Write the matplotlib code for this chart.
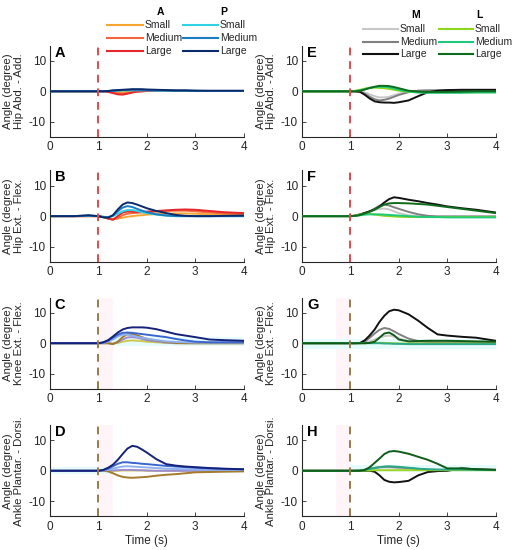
import matplotlib

matplotlib.use("Agg")

import matplotlib.pyplot as plt
from matplotlib.lines import Line2D

plt.rcParams["font.family"] = ["Liberation Sans", "DejaVu Sans"]
plt.rcParams["axes.unicode_minus"] = False

# tiempo comun (s)
T = [0, 0.5, 0.8, 1.0, 1.1, 1.2, 1.3, 1.4, 1.5, 1.6, 1.7, 1.8, 1.9, 2.0,
     2.2, 2.4, 2.6, 2.8, 3.0, 3.3, 3.6, 4.0]

sizes = ["Small", "Medium", "Large"]

# ---- columna izquierda: A / P ----
hip_aa_A = [
    [0, 0, 0, 0, 0, 0, -0.1, -0.2, -0.3, -0.2, -0.1, 0, 0.1, 0.1, 0.1, 0.1, 0.1, 0.1, 0.1, 0.1, 0.1, 0.1],
    [0, 0, 0, 0, 0, -0.1, -0.4, -0.7, -0.8, -0.6, -0.3, -0.1, 0, 0.1, 0.1, 0.1, 0.1, 0.1, 0.1, 0.1, 0.1, 0.1],
    [0, 0, 0, 0, 0, -0.2, -0.6, -1.0, -1.1, -0.8, -0.4, -0.1, 0, 0.1, 0.2, 0.2, 0.2, 0.2, 0.1, 0.1, 0.1, 0.1],
]
hip_aa_P = [
    [0, 0, 0, 0, 0, 0.1, 0.2, 0.2, 0.3, 0.3, 0.3, 0.3, 0.3, 0.3, 0.2, 0.2, 0.2, 0.2, 0.1, 0.1, 0.1, 0.1],
    [0, 0, 0, 0, 0, 0.1, 0.2, 0.3, 0.4, 0.4, 0.5, 0.5, 0.4, 0.4, 0.3, 0.3, 0.2, 0.2, 0.2, 0.1, 0.1, 0.1],
    [0, 0, 0, 0, 0, 0.1, 0.3, 0.4, 0.5, 0.6, 0.7, 0.7, 0.7, 0.6, 0.5, 0.4, 0.3, 0.3, 0.2, 0.2, 0.2, 0.2],
]
hip_ef_A = [
    [0, 0, 0, 0, -0.2, -0.6, -0.9, -0.8, -0.5, -0.2, 0, 0.2, 0.3, 0.5, 0.7, 0.8, 0.9, 0.9, 0.8, 0.6, 0.5, 0.4],
    [0, 0, 0, 0, -0.3, -0.8, -1.1, -0.6, 0.3, 0.8, 1.0, 1.1, 1.2, 1.3, 1.5, 1.7, 1.8, 1.8, 1.6, 1.2, 0.9, 0.8],
    [0, 0, 0, 0, -0.3, -0.8, -1.2, 0, 1.2, 1.5, 1.5, 1.4, 1.4, 1.5, 1.7, 1.9, 2.1, 2.2, 2.1, 1.7, 1.3, 1.0],
]
hip_ef_P = [
    [0, 0, 0.1, 0, -0.2, -0.3, 0, 0.8, 1.6, 2.0, 2.0, 1.7, 1.3, 1.0, 0.5, 0.2, 0, 0, 0, 0, 0, 0],
    [0, 0, 0.2, 0, -0.3, -0.4, 0.2, 1.6, 2.8, 3.3, 3.0, 2.4, 1.8, 1.3, 0.6, 0.2, 0, 0, 0, 0, 0, 0],
    [0, 0, 0.3, 0, -0.4, -0.5, 0.3, 2.2, 3.8, 4.5, 4.3, 3.8, 3.2, 2.6, 1.7, 1.0, 0.4, 0.1, 0, 0, 0.1, 0.2],
]
knee_A = [
    [0, 0, 0, 0, 0, 0, -0.1, 0.1, 0.5, 0.8, 0.9, 0.8, 0.7, 0.5, 0.3, 0.1, 0, 0, 0, 0, 0, 0],
    [0, 0, 0, 0, 0, 0, -0.2, 0.3, 1.2, 1.9, 2.0, 1.8, 1.4, 1.0, 0.6, 0.2, 0, 0, 0, 0, 0, 0],
    [0, 0, 0, 0, 0, 0, -0.3, 0.5, 2.0, 3.0, 3.0, 2.6, 2.0, 1.4, 0.9, 0.4, 0.1, 0, 0, 0, 0, 0],
]
knee_P = [
    [0, 0, 0, 0, 0.1, 0.5, 1.2, 2.2, 2.8, 2.8, 2.5, 2.1, 1.8, 1.5, 1.0, 0.6, 0.4, 0.3, 0.2, 0.2, 0.2, 0.2],
    [0, 0, 0, 0, 0.2, 0.8, 1.8, 2.8, 3.4, 3.5, 3.4, 3.2, 3.0, 2.8, 2.4, 2.0, 1.4, 0.9, 0.5, 0.3, 0.3, 0.3],
    [0, 0, 0, 0, 0.3, 1.0, 2.2, 3.5, 4.5, 5.0, 5.2, 5.2, 5.2, 5.1, 4.6, 3.8, 3.0, 2.5, 2.0, 1.2, 1.0, 0.8],
]
ankle_A = [
    [0, 0, 0, 0, 0, 0, 0, 0, 0.1, 0.1, 0.1, 0.1, 0.1, 0, 0, 0, 0, 0, 0, 0, 0, 0],
    [0, 0, 0, 0, 0, 0, 0.1, 0.2, 0.3, 0.3, 0.3, 0.2, 0.2, 0.1, 0, 0, 0, 0, 0, 0, 0, 0],
    [0, 0, 0, 0, 0, -0.2, -0.8, -1.5, -2.0, -2.2, -2.3, -2.2, -2.1, -2.0, -1.6, -1.3, -1.1, -0.8, -0.5, -0.4, -0.3, -0.2],
]
ankle_P = [
    [0, 0, 0, 0, 0.1, 0.3, 0.7, 1.1, 1.4, 1.5, 1.4, 1.3, 1.2, 1.1, 0.9, 0.7, 0.6, 0.5, 0.4, 0.3, 0.3, 0.3],
    [0, 0, 0, 0, 0.2, 0.7, 1.5, 2.3, 2.8, 2.8, 2.6, 2.5, 2.3, 2.2, 1.9, 1.6, 1.4, 1.2, 1.0, 0.8, 0.6, 0.5],
    [0, 0, 0, 0, 0.3, 1.0, 2.0, 3.6, 5.5, 7.3, 8.2, 7.9, 7.0, 6.0, 3.8, 2.2, 1.7, 1.4, 1.2, 0.9, 0.7, 0.5],
]

# ---- columna derecha: M / L ----
hip_aa_M = [
    [0, 0, 0, 0, 0, 0, -0.4, -1.0, -1.6, -2.0, -2.0, -1.8, -1.3, -0.8, -0.1, 0.2, 0.3, 0.3, 0.3, 0.3, 0.2, 0.2],
    [0, 0, 0, 0, 0, -0.1, -0.8, -1.8, -2.6, -3.0, -2.8, -2.4, -1.8, -1.2, -0.3, 0.2, 0.3, 0.3, 0.3, 0.3, 0.3, 0.3],
    [0, 0, 0, 0, 0, -0.2, -1.2, -2.4, -3.3, -3.6, -3.7, -3.7, -3.8, -3.6, -3.0, -1.6, -0.3, 0.2, 0.4, 0.5, 0.5, 0.5],
]
hip_aa_L = [
    [0, 0, 0, 0, 0.2, 0.5, 0.9, 1.2, 1.2, 1.1, 1.0, 0.8, 0.5, 0.2, -0.2, -0.3, -0.3, -0.3, -0.3, -0.3, -0.3, -0.3],
    [0, 0, 0, 0, 0.1, 0.3, 0.7, 1.1, 1.4, 1.5, 1.5, 1.3, 0.9, 0.5, -0.1, -0.4, -0.5, -0.5, -0.5, -0.5, -0.4, -0.4],
    [0, 0, 0, 0, 0, 0.2, 0.6, 1.1, 1.5, 1.8, 1.8, 1.7, 1.4, 1.0, 0.2, -0.1, -0.2, -0.2, -0.2, -0.1, 0, 0],
]
hip_ef_M = [
    [0, 0, 0, 0, 0.1, 0.3, 0.7, 1.3, 2.0, 2.4, 2.5, 2.2, 1.6, 1.0, 0.3, 0, -0.1, -0.1, -0.1, -0.1, -0.1, -0.1],
    [0, 0, 0, 0, 0.1, 0.4, 0.9, 1.6, 2.5, 3.4, 3.8, 3.5, 2.9, 2.4, 1.4, 0.6, 0.1, -0.1, -0.1, -0.1, -0.1, -0.1],
    [0, 0, 0, 0, 0.2, 0.6, 1.1, 1.6, 2.2, 3.2, 4.5, 5.6, 6.2, 6.0, 5.4, 4.9, 4.3, 3.8, 3.2, 2.6, 2.1, 1.2],
]
hip_ef_L = [
    [0, 0, 0, 0, 0.2, 0.5, 0.8, 0.7, 0.5, 0.3, 0.1, 0, -0.1, -0.2, -0.3, -0.3, -0.3, -0.3, -0.3, -0.3, -0.3, -0.3],
    [0, 0, 0, 0, 0.1, 0.3, 0.5, 0.6, 0.6, 0.6, 0.5, 0.4, 0.3, 0.2, 0, -0.2, -0.3, -0.3, -0.4, -0.4, -0.4, -0.4],
    [0, 0, 0, 0, 0.1, 0.4, 0.9, 1.5, 2.2, 3.0, 3.8, 4.2, 4.3, 4.3, 4.2, 4.0, 3.8, 3.4, 3.0, 2.4, 1.8, 1.0],
]
knee_M = [
    [0, 0, 0, 0, 0, 0, 0.2, 0.6, 1.2, 1.9, 2.3, 2.5, 2.2, 1.6, 0.6, 0.3, 0.3, 0.3, 0.3, 0.3, 0.3, 0.3],
    [0, 0, 0, 0, 0, 0, 0.6, 1.8, 3.2, 4.4, 5.0, 4.7, 3.9, 3.0, 1.5, 0.7, 0.4, 0.3, 0.3, 0.3, 0.3, 0.3],
    [0, 0, 0, 0, 0, 0.1, 1.0, 2.6, 4.5, 7.0, 9.0, 10.5, 11.0, 10.8, 9.5, 7.4, 5.0, 2.9, 2.5, 2.1, 1.8, 0.8],
]
knee_L = [
    [0, 0, 0, 0, 0, 0, 0, 0.1, 0.1, 0.1, 0.1, 0, 0, -0.1, -0.1, -0.1, -0.1, -0.1, -0.1, -0.1, -0.1, -0.1],
    [0, 0, 0, 0, 0, 0, 0, 0, 0, 0, -0.1, -0.1, -0.2, -0.2, -0.3, -0.3, -0.3, -0.3, -0.3, -0.3, -0.3, -0.3],
    [0, 0, 0, 0, 0, 0, 0, 0.1, 0.5, 1.8, 3.2, 3.5, 2.6, 1.2, 0.6, 0.7, 0.8, 0.8, 0.8, 0.7, 0.6, 0.5],
]
ankle_M = [
    [0, 0, 0, 0, 0, 0.1, 0.3, 0.5, 0.8, 1.0, 1.1, 1.1, 1.0, 0.9, 0.7, 0.5, 0.3, 0.2, 0.2, 0.3, 0.3, 0.2],
    [0, 0, 0, 0, 0, 0.1, 0.4, 0.7, 1.0, 1.2, 1.3, 1.3, 1.2, 1.1, 0.9, 0.6, 0.4, 0.3, 0.3, 0.4, 0.3, 0.3],
    [0, 0, 0, 0, 0, 0, 0, 0, -0.3, -1.5, -3.0, -3.6, -3.8, -3.7, -3.3, -1.5, -0.4, -0.1, 0, 0.8, 0.5, 0.3],
]
ankle_L = [
    [0, 0, 0, 0, 0, 0, 0.1, 0.1, 0.2, 0.2, 0.2, 0.2, 0.2, 0.2, 0.2, 0.2, 0.2, 0.2, 0.2, 0.2, 0.2, 0.2],
    [0, 0, 0, 0, 0, 0.1, 0.3, 0.6, 0.9, 1.2, 1.4, 1.5, 1.4, 1.3, 1.0, 0.7, 0.5, 0.4, 0.4, 0.4, 0.3, 0.3],
    [0, 0, 0, 0, 0, 0, 0.3, 1.2, 2.6, 4.0, 5.5, 6.3, 6.5, 6.3, 5.6, 4.6, 3.6, 2.3, 0.8, 0.8, 0.5, 0.3],
]

joint_labels = ["Hip Abd. - Add.", "Hip Ext. - Flex.", "Knee Ext. - Flex.",
                "Ankle Plantar. - Dorsi."]
left_data = [(hip_aa_A, hip_aa_P), (hip_ef_A, hip_ef_P),
             (knee_A, knee_P), (ankle_A, ankle_P)]
right_data = [(hip_aa_M, hip_aa_L), (hip_ef_M, hip_ef_L),
              (knee_M, knee_L), (ankle_M, ankle_L)]

# colores
col_A = ["#f7a531", "#f4673c", "#e5262a"]
col_P = ["#2fd3e3", "#1a7dc2", "#0b2a6b"]
col_M = ["#c8c8c8", "#808080", "#111111"]
col_L = ["#8fd61a", "#1ec97a", "#0e6b1c"]
# en las filas inferiores los colores se ven mezclados con el sombreado
col_A_low = ["#cfc94a", "#9b8bd6", "#a47a2d"]
col_P_low = ["#8fb2ee", "#3a66d0", "#16217a"]
col_L_low = ["#9fd520", "#2aa88a", "#0e5c18"]

# sombreado tenue (inicio, fin) y banda (inicio, fin, y0, y1)
pink_left = [None, None, (1.0, 1.3), (1.0, 1.3)]
pink_right = [None, None, (0.7, 1.0), (0.7, 1.0)]
cyan_left = [None, None, (1.3, 4.0, -1.0, 2.0), (0.0, 1.3, -1.0, 1.2)]
cyan_right = [None, None, (0.0, 4.0, -2.0, 1.5), (1.0, 4.0, -0.3, 2.0)]

fig = plt.figure(figsize=(5.12, 5.5), dpi=100)

x_left, x_right, w = 0.0977, 0.590, 0.378
row_y = [0.751, 0.524, 0.293, 0.061]
h = 0.166
letters_left = ["A", "B", "C", "D"]
letters_right = ["E", "F", "G", "H"]

tick_c = "#262626"


def style_axes(ax, row, letter, label):
    ax.set_xlim(0, 4)
    ax.set_ylim(-15, 15)
    ax.set_xticks([0, 1, 2, 3, 4])
    ax.set_yticks([-10, 0, 10])
    for s in ("top", "right"):
        ax.spines[s].set_visible(False)
    for s in ("left", "bottom"):
        ax.spines[s].set_color("#262626")
        ax.spines[s].set_linewidth(0.8)
    ax.tick_params(direction="in", length=3, width=0.6, labelsize=8.5,
                   colors=tick_c, pad=3)
    ax.set_ylabel("Angle (degree)\n" + label, fontsize=8.2, color=tick_c,
                  linespacing=1.05)
    ax.yaxis.set_label_coords(-0.135, 0.5)
    ax.text(0.025, 1.0, letter, transform=ax.transAxes, fontsize=10.5,
            fontweight="bold", va="top", ha="left")
    if row == 3:
        ax.set_xlabel("Time (s)", fontsize=8.5, color=tick_c, labelpad=2)


for row in range(4):
    for side in range(2):
        x0 = x_left if side == 0 else x_right
        ax = fig.add_axes([x0, row_y[row], w, h])
        if side == 0:
            g1, g2 = left_data[row]
            c1 = col_A if row < 2 else col_A_low
            c2 = col_P if row < 2 else col_P_low
            pink, cyan = pink_left[row], cyan_left[row]
            letter = letters_left[row]
        else:
            g1, g2 = right_data[row]
            c1 = col_M
            c2 = col_L if row < 2 else col_L_low
            pink, cyan = pink_right[row], cyan_right[row]
            letter = letters_right[row]

        if pink:
            ax.axvspan(pink[0], pink[1], color="#fff4f8", lw=0, zorder=0)
        if cyan:
            ax.fill_between([cyan[0], cyan[1]], cyan[2], cyan[3],
                            color="#e6fbfb", lw=0, zorder=0)

        for i in range(3):
            ax.plot(T, g1[i], color=c1[i], lw=1.4, zorder=2)
        for i in range(3):
            ax.plot(T, g2[i], color=c2[i], lw=1.4, zorder=3)

        vc = "#e8474a" if row < 2 else "#9c7a4a"
        ax.axvline(1, color=vc, lw=1.4, ls=(0, (4, 3)), zorder=4)
        style_axes(ax, row, letter, joint_labels[row])


def legend_block(headers, cols, lines_x, text_x, rows_y, head_x, head_y):
    H = 550.0
    W = 512.0
    for k in range(2):
        fig.text(head_x[k] / W, 1 - head_y / H, headers[k], fontsize=7.5,
                 fontweight="bold", ha="center", va="center")
        for i in range(3):
            y = 1 - rows_y[i] / H
            fig.add_artist(Line2D([lines_x[k][0] / W, lines_x[k][1] / W],
                                  [y, y], color=cols[k][i], lw=1.5))
            fig.text(text_x[k] / W, y, sizes[i], fontsize=7.5, color=tick_c,
                     ha="left", va="center")


legend_block(["A", "P"], [col_A, col_P], [(107, 143), (183, 218)],
             [145, 220], [25, 38, 51], [160, 224], 12)
legend_block(["M", "L"], [col_M, col_L], [(363, 398), (439, 473)],
             [400, 475], [29, 42, 54], [416, 479], 15)

fig.savefig("out.png", dpi=100)
plt.close(fig)
